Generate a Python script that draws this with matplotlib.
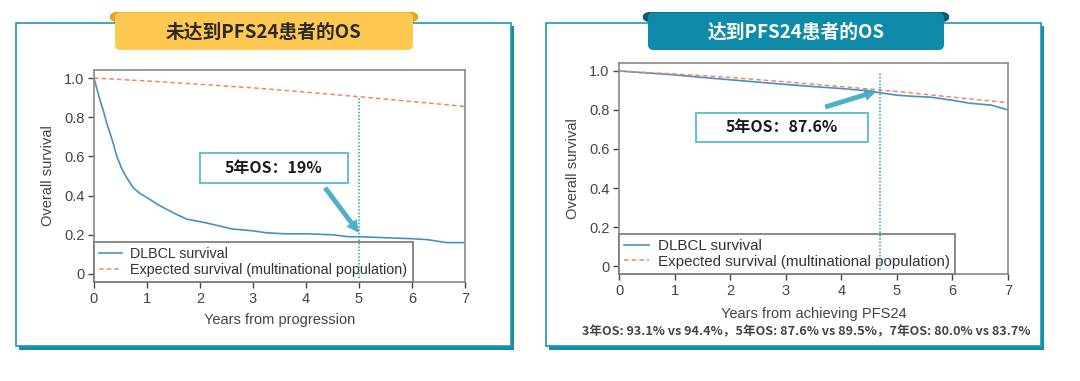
import matplotlib
matplotlib.use('Agg')
import matplotlib.pyplot as plt
from matplotlib.patches import Rectangle, FancyBboxPatch

plt.rcParams['font.family'] = ['Liberation Sans', 'Noto Sans CJK SC']

W, H = 1080, 381

# ---- data ----
years_left = [0, 0.05, 0.11, 0.18, 0.24, 0.36, 0.43, 0.52, 0.62, 0.74, 0.87, 1.0, 1.2, 1.37, 1.55, 1.75, 2.13,
              2.6, 3.0, 3.26, 3.6, 4.0, 4.5, 4.8, 5.0, 5.5, 6.0, 6.3, 6.65, 7.0]
dlbcl_left = [1.0, 0.95, 0.89, 0.83, 0.77, 0.67, 0.60, 0.54, 0.49, 0.44, 0.41, 0.39, 0.355, 0.33, 0.305, 0.28, 0.26,
              0.23, 0.22, 0.21, 0.205, 0.205, 0.20, 0.19, 0.19, 0.185, 0.18, 0.175, 0.16, 0.16]
years_exp = [0, 1, 2, 3, 4, 5, 6, 7]
expected_left = [1.0, 0.985, 0.968, 0.95, 0.928, 0.905, 0.88, 0.855]

years_right = [0, 0.5, 1.0, 1.5, 2.0, 2.5, 3.0, 3.5, 4.0, 4.4, 4.7, 5.0, 5.3, 5.6, 6.0, 6.3, 6.7, 7.0]
dlbcl_right = [1.0, 0.99, 0.98, 0.967, 0.955, 0.943, 0.931, 0.92, 0.91, 0.9, 0.888, 0.876, 0.87, 0.866, 0.85, 0.835, 0.825, 0.80]
expected_right = [1.0, 0.985, 0.967, 0.944, 0.92, 0.895, 0.866, 0.837]

titles = ['未达到PFS24患者的OS', '达到PFS24患者的OS']
xlabels = ['Years from progression', 'Years from achieving PFS24']
notes = ['5年OS：19%', '5年OS：87.6%']
footnote = '3年OS: 93.1% vs 94.4%，5年OS: 87.6% vs 89.5%，7年OS: 80.0% vs 83.7%'
mark_year = [5.0, 4.7]

fig = plt.figure(figsize=(W / 100, H / 100), dpi=100)
fig.patch.set_facecolor('white')


def fx(x):
    return x / W


def fy(y):
    return 1 - y / H


def frect(x0, y0, x1, y1):
    return [fx(x0), fy(y1), fx(x1) - fx(x0), fy(y0) - fy(y1)]


teal = '#1a97b3'

# panel frames and tabs
panels = [(16, 511), (546, 1041)]
tabs = [((109, 419), (115, 413), '#e3a52c', '#ffc850', '#2a2a2a'),
        ((642, 950), (648, 944), '#0a5d70', '#0e8ba8', 'white')]
for (x0, x1), (ear, main, ear_c, main_c, tcol) in zip(panels, tabs):
    fig.patches.append(Rectangle((fx(x0 + 3), fy(350)), fx(x1 - x0), fy(26) - fy(350),
                                 transform=fig.transFigure, facecolor='#168ea9', edgecolor='none', zorder=0))
    fig.patches.append(Rectangle((fx(x0), fy(346)), fx(x1 - x0), fy(23) - fy(346),
                                 transform=fig.transFigure, facecolor='white', edgecolor=teal, lw=1.2, zorder=1))
    fig.patches.append(FancyBboxPatch((fx(ear[0]), fy(22)), fx(ear[1] - ear[0]), fy(12) - fy(22),
                                      boxstyle='round,pad=0,rounding_size=0.007',
                                      transform=fig.transFigure, facecolor=ear_c, edgecolor='none', zorder=2,
                                      mutation_aspect=W / H))
    fig.patches.append(FancyBboxPatch((fx(main[0]), fy(50)), fx(main[1] - main[0]), fy(12.5) - fy(50),
                                      boxstyle='round,pad=0,rounding_size=0.005',
                                      transform=fig.transFigure, facecolor=main_c, edgecolor='none', zorder=3,
                                      mutation_aspect=W / H))

for i, (x0, x1) in enumerate(panels):
    cx = (tabs[i][1][0] + tabs[i][1][1]) / 2
    fig.text(fx(cx), fy(32), titles[i], ha='center', va='center', fontsize=13.5, fontweight='bold',
             color=tabs[i][4], family=['Noto Sans CJK SC'], zorder=5)

axes_px = [(94, 70, 465, 282), (619, 63, 1008, 274)]
curves = [(years_left, dlbcl_left, expected_left), (years_right, dlbcl_right, expected_right)]
ylab_x = [48, 573]
xlab_y = [320, 314]
note_box = [(2.0, 0.464, 2.79, 0.153), (1.39, 0.636, 3.09, 0.149)]
arrows = [((4.36, 0.44), (5.0, 0.21)), ((3.71, 0.815), (4.64, 0.897))]
mark_top = [0.90, 0.995]
leg_size = [10.3, 10.9]

for i in range(2):
    x0, y0, x1, y1 = axes_px[i]
    ax = fig.add_axes(frect(x0, y0, x1, y1), zorder=4)
    ax.set_facecolor('none')
    yrs, dl, ex = curves[i]
    ax.plot(yrs, dl, color='#4a8fc4', lw=1.2, label='DLBCL survival')
    ax.plot(years_exp, ex, color='#ee8a63', lw=1.1, ls=(0, (3, 2)),
            label='Expected survival (multinational population)')
    ax.set_xlim(0, 7)
    ax.set_ylim(-0.041, 1.041)
    ax.set_xticks(range(8))
    ax.set_yticks([0, 0.2, 0.4, 0.6, 0.8, 1.0])
    ax.set_yticklabels(['0', '0.2', '0.4', '0.6', '0.8', '1.0'])
    ax.tick_params(labelsize=10.5, colors='#444444', length=4, width=1, direction='out', pad=3)
    for s in ax.spines.values():
        s.set_color('#8a8a8a')
        s.set_linewidth(1.2)
    ax.plot([mark_year[i], mark_year[i]], [-0.02, mark_top[i]], color='#1f9dc0', lw=1.1,
            ls=(0, (1, 1.2)), zorder=5, clip_on=False)

    leg = ax.legend(ax.lines[:2], [l.get_label() for l in ax.lines[:2]],
                    loc='lower left', bbox_to_anchor=(0, 0), borderaxespad=0, fancybox=False,
                    fontsize=leg_size[i], handlelength=1.6, handletextpad=0.6, borderpad=0.35, labelspacing=0.12,
                    framealpha=1, edgecolor='#777777')
    leg.get_frame().set_linewidth(1.2)
    for t in leg.get_texts():
        t.set_color('#333333')
    leg.set_zorder(3)

    bx, by, bw, bh = note_box[i]
    ax.add_patch(Rectangle((bx, by), bw, bh, facecolor='white', edgecolor='#5ab8d2', lw=1.3, zorder=6))
    ax.text(bx + bw / 2, by + bh / 2, notes[i], ha='center', va='center', fontsize=11.5, fontweight='bold',
            color='#1a1a1a', family=['Noto Sans CJK SC'], zorder=7)
    (sx, sy), (ex_, ey) = arrows[i]
    ax.annotate('', xy=(ex_, ey), xytext=(sx, sy),
                arrowprops=dict(arrowstyle='simple,head_width=0.9,head_length=0.9,tail_width=0.35',
                                color='#3aa6c2', alpha=0.9, lw=0, shrinkA=0, shrinkB=0), zorder=7)

    fig.text(fx(ylab_x[i]), fy((y0 + y1) / 2), 'Overall survival', rotation=90, ha='center', va='center',
             fontsize=10.5, color='#444444')
    fig.text(fx((x0 + x1) / 2), fy(xlab_y[i]), xlabels[i], ha='center', va='center',
             fontsize=10.5, color='#444444')

fig.text(fx(806), fy(332), footnote, ha='center', va='center', fontsize=9.1, fontweight='bold',
         color='#444444', family=['Noto Sans CJK SC'])

fig.savefig('out.png', dpi=100)
